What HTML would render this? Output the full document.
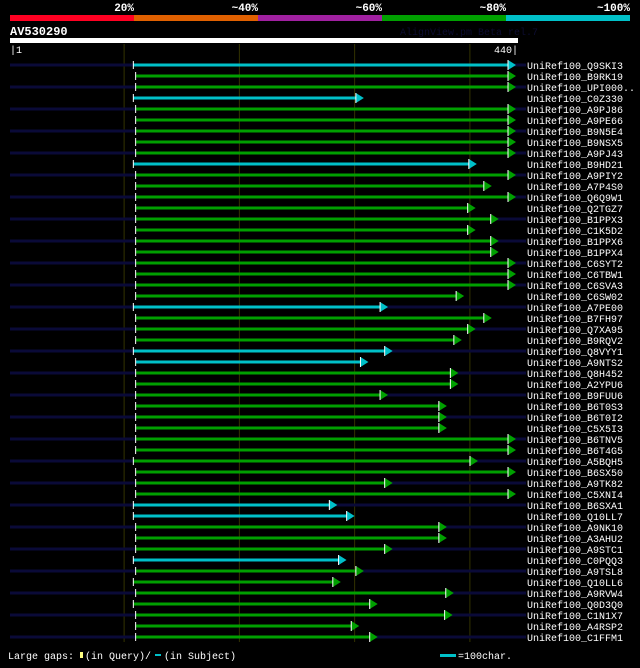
<!DOCTYPE html>
<html><head><meta charset="utf-8">
<style>
html,body{margin:0;padding:0;background:#000;}
body{width:640px;height:663px;overflow:hidden;font-family:"Liberation Mono","DejaVu Sans Mono",monospace;}
svg text{font-family:"Liberation Mono","DejaVu Sans Mono",monospace;}
</style></head>
<body>
<svg id="chart" width="640" height="663" xmlns="http://www.w3.org/2000/svg">
<rect x="0" y="0" width="640" height="663" fill="#000"/>
<g id="top">
<rect x="10" y="15" width="124" height="6" fill="#ff0022"/>
<rect x="134" y="15" width="124" height="6" fill="#e06000"/>
<rect x="258" y="15" width="124" height="6" fill="#a020a0"/>
<rect x="382" y="15" width="124" height="6" fill="#00a000"/>
<rect x="506" y="15" width="124" height="6" fill="#00c0c8"/>
<text x="134" y="11" fill="#fff" font-size="11" font-weight="bold" text-anchor="end">20%</text>
<text x="258" y="11" fill="#fff" font-size="11" font-weight="bold" text-anchor="end">~40%</text>
<text x="382" y="11" fill="#fff" font-size="11" font-weight="bold" text-anchor="end">~60%</text>
<text x="506" y="11" fill="#fff" font-size="11" font-weight="bold" text-anchor="end">~80%</text>
<text x="630" y="11" fill="#fff" font-size="11" font-weight="bold" text-anchor="end">~100%</text>
</g>
<text x="10" y="35" fill="#fff" font-size="12" font-weight="bold">AV530290</text>
<text x="400" y="35" fill="#0c0c30" font-size="10">AlignView.pm Beta rel.7</text>
<rect x="10" y="38" width="508" height="5" fill="#fff"/>
<text x="10" y="53" fill="#fff" font-size="10">|1</text>
<text x="518" y="53" fill="#fff" font-size="10" text-anchor="end">440|</text>
<g id="grid"></g>
<g id="rows"></g>
<g>
<text x="8" y="659" fill="#fff" font-size="10">Large gaps:</text>
<rect x="80" y="652" width="3" height="6" fill="#ffff80"/>
<text x="85" y="659" fill="#fff" font-size="10">(in Query)/</text>
<rect x="155" y="654" width="6" height="2" fill="#00c0c8"/>
<text x="164" y="659" fill="#fff" font-size="10">(in Subject)</text>
<rect x="440" y="654" width="16" height="3" fill="#00c0c8"/>
<text x="458" y="659" fill="#fff" font-size="10">=100char.</text>
</g>
</svg>
<script>
const labels=["Q9SKI3","B9RK19","UPI000..","C0Z330","A9PJ86","A9PE66","B9N5E4","B9NSX5","A9PJ43","B9HD21","A9PIY2","A7P4S0","Q6Q9W1","Q2TGZ7","B1PPX3","C1K5D2","B1PPX6","B1PPX4","C6SYT2","C6TBW1","C6SVA3","C6SW02","A7PE00","B7FH97","Q7XA95","B9RQV2","Q8VYY1","A9NTS2","Q8H452","A2YPU6","B9FUU6","B6T0S3","B6T0I2","C5X5I3","B6TNV5","B6T4G5","A5BQH5","B6SX50","A9TK82","C5XNI4","B6SXA1","Q10LL7","A9NK10","A3AHU2","A9STC1","C0PQQ3","A9TSL8","Q10LL6","A9RVW4","Q0D3Q0","C1N1X7","A4RSP2","C1FFM1"];
const starts=[108,110,110,108,110,110,110,110,110,108,110,110,110,110,110,110,110,110,110,110,110,110,108,110,110,110,108,110,110,110,110,110,110,110,110,110,108,110,110,110,108,108,110,110,110,108,110,108,110,108,110,110,110];
const ends=[440,440,440,308,440,440,440,440,440,406,440,419,440,405,425,405,425,425,440,440,440,395,329,419,405,393,333,312,390,390,329,380,380,380,440,440,407,440,333,440,285,300,380,380,333,293,308,288,386,320,385,304,320];
const cyanRows=[0,3,9,22,26,27,40,41,45];
const gridTicks=[100,200,300,400];
const qMin=1,qMax=440;
const X=r=>10+(r-qMin)*(506/(qMax-qMin));
const ROW0=65,ROWH=11;
const NS="http://www.w3.org/2000/svg";
function mk(t,a,p){const e=document.createElementNS(NS,t);for(const k in a)e.setAttribute(k,a[k]);p.appendChild(e);return e;}
const grid=document.getElementById('grid');
gridTicks.forEach(v=>{
 const l=mk('line',{x1:X(v),x2:X(v),y1:44,y2:642,stroke:'#333300','stroke-width':1},grid);
 
 
});
const rows=document.getElementById('rows');
labels.forEach((lab,i)=>{
 const y=ROW0+i*ROWH;
 const g=mk('g',{},rows);
 
 
 if(i%2===0) mk('rect',{x:10,y:y-1.5,width:516,height:3,fill:'#0a0a38'},g);
 const col=cyanRows.includes(i)?'#00c0c8':'#00a000';
 const x1=X(starts[i]),x2=X(ends[i]);
 mk('rect',{x:x1,y:y-1.5,width:x2-x1-7,height:3,fill:col},g);
 mk('line',{x1:x1,x2:x1,y1:y-4,y2:y+4,stroke:'#fff','stroke-width':1},g);
 mk('polygon',{points:`${x2-8},${y-5} ${x2},${y} ${x2-8},${y+5}`,fill:col},g);
 mk('line',{x1:x2-8,x2:x2-8,y1:y-5,y2:y+5,stroke:'#fff','stroke-width':1},g);
 const t=mk('text',{x:527,y:y+4,fill:'#fff','font-size':10},g);
 t.textContent='UniRef100_'+lab;
 
 
});
</script>
</body></html>
